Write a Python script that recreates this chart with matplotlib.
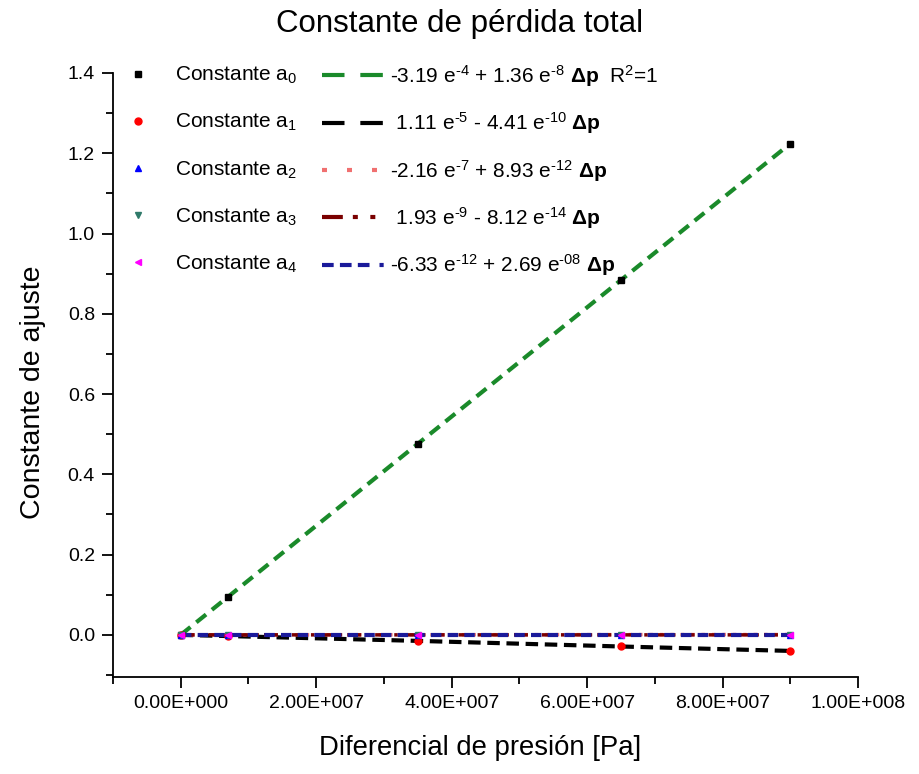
import matplotlib
matplotlib.use("Agg")
import matplotlib.pyplot as plt
from matplotlib.lines import Line2D
from matplotlib.ticker import FuncFormatter, MultipleLocator
import numpy as np

plt.rcParams['font.family'] = ['Liberation Sans', 'DejaVu Sans']
plt.rcParams['mathtext.fontset'] = 'custom'
plt.rcParams['mathtext.rm'] = 'Liberation Sans'
plt.rcParams['mathtext.it'] = 'Liberation Sans:italic'
plt.rcParams['mathtext.bf'] = 'Liberation Sans:bold'

# ---- data ----
delta_p = [0.0, 7.0e6, 3.5e7, 6.5e7, 9.0e7]
a0 = [0.0, 0.095, 0.476, 0.884, 1.224]
a1 = [0.0, -0.003, -0.015, -0.029, -0.040]
a2 = [0.0, 0.0, 0.0003, 0.0006, 0.0008]
a3 = [0.0, 0.0, -0.000003, -0.000005, -0.000007]
a4 = [0.0, 0.0, 0.0, 0.0, 0.0]

series_labels = ["Constante a$_0$", "Constante a$_1$", "Constante a$_2$",
                 "Constante a$_3$", "Constante a$_4$"]
fit_labels = [
    r"-3.19 e$^{\text{-4}}$ + 1.36 e$^{\text{-8}}$ $\mathbf{\Delta p}$  R$^2$=1",
    r" 1.11 e$^{\text{-5}}$ - 4.41 e$^{\text{-10}}$ $\mathbf{\Delta p}$",
    r"-2.16 e$^{\text{-7}}$ + 8.93 e$^{\text{-12}}$ $\mathbf{\Delta p}$",
    r" 1.93 e$^{\text{-9}}$ - 8.12 e$^{\text{-14}}$ $\mathbf{\Delta p}$",
    r"-6.33 e$^{\text{-12}}$ + 2.69 e$^{\text{-08}}$ $\mathbf{\Delta p}$",
]

marker_styles = [('s', 'black'), ('o', 'red'), ('^', 'blue'),
                 ('v', '#2f7a6a'), ('<', 'magenta')]
line_colors = ['#1a8a2a', 'black', '#f07070', '#7a0000', '#1a1a9a']
plot_dashes = [(3.0, 1.8), (3.0, 1.6), (1.0, 2.0), (4, 1.5, 1, 1.5), (2.5, 1.5)]
legend_dashes = [(5.4, 3.8), (5.4, 3.8), (1.2, 4.8), (5.0, 2.4, 1.2, 3.0, 1.2, 2.6),
                 (2.8, 1.5, 2.8, 1.5, 2.8, 2.4, 1.0, 1.0)]
line_widths = [3.0, 3.0, 2.5, 2.5, 3.0]

fig = plt.figure(figsize=(9.2, 7.74), dpi=100)
ax = fig.add_axes([113/920, 1-677/774, 745/920, (677-73)/774])

series = [a0, a1, a2, a3, a4]
for i, ys in enumerate(series):
    ax.plot(delta_p, ys, color=line_colors[i], lw=line_widths[i],
            dashes=plot_dashes[i], zorder=2 + i)
for i, ys in enumerate(series):
    m, c = marker_styles[i]
    ax.plot(delta_p, ys, linestyle='none', marker=m, color=c, ms=5, zorder=10)

ax.set_xlim(-1e7, 1e8)
ax.set_ylim(-0.105, 1.4)

for s in ['top', 'right']:
    ax.spines[s].set_visible(False)
for s in ['left', 'bottom']:
    ax.spines[s].set_linewidth(1.3)

ax.xaxis.set_major_locator(MultipleLocator(2e7))
ax.xaxis.set_minor_locator(MultipleLocator(1e7))
ax.yaxis.set_major_locator(MultipleLocator(0.2))
ax.yaxis.set_minor_locator(MultipleLocator(0.1))


def sci_fmt(v, pos):
    if v == 0:
        return "0.00E+000"
    e = int(np.floor(np.log10(abs(v))))
    m = v / 10 ** e
    return f"{m:.2f}E{'+' if e >= 0 else '-'}{abs(e):03d}"


ax.xaxis.set_major_formatter(FuncFormatter(sci_fmt))
ax.yaxis.set_major_formatter(FuncFormatter(lambda v, p: f"{v:.1f}"))
ax.tick_params(which='major', direction='out', length=8, width=1.3, labelsize=14, pad=5)
ax.tick_params(which='minor', direction='out', length=5, width=1.3)

fig.text(0.5, 1 - 24/774, "Constante de pérdida total", ha='center', va='center', fontsize=22.5)
fig.text(480/920, 1 - 748/774, "Diferencial de presión [Pa]", ha='center', va='center', fontsize=19.8)
fig.text(33/920, 1 - 392/774, "Constante de ajuste", ha='center', va='center',
         rotation=90, fontsize=20.5)

# legend 1: markers
mk_handles = []
for i in range(5):
    m, c = marker_styles[i]
    mk_handles.append(Line2D([], [], linestyle='none', marker=m, color=c, ms=5))
leg1 = ax.legend(mk_handles, series_labels, loc='upper left',
                 bbox_to_anchor=(128.5/920, 1 - 65/774), bbox_transform=fig.transFigure,
                 frameon=False, fontsize=15, handlelength=0.93, handletextpad=1.3,
                 labelspacing=1.24, borderpad=0, borderaxespad=0)
ax.add_artist(leg1)

# legend 2: fit lines
ln_handles = []
for i in range(5):
    ln_handles.append(Line2D([], [], color=line_colors[i], lw=3, dashes=legend_dashes[i]))
leg2 = ax.legend(ln_handles, fit_labels, loc='upper left',
                 bbox_to_anchor=(322/920, 1 - 63/774), bbox_transform=fig.transFigure,
                 frameon=False, fontsize=15, handlelength=2.98, handletextpad=0.3,
                 labelspacing=1.03, borderpad=0, borderaxespad=0)

fig.savefig("out.png", dpi=100)
